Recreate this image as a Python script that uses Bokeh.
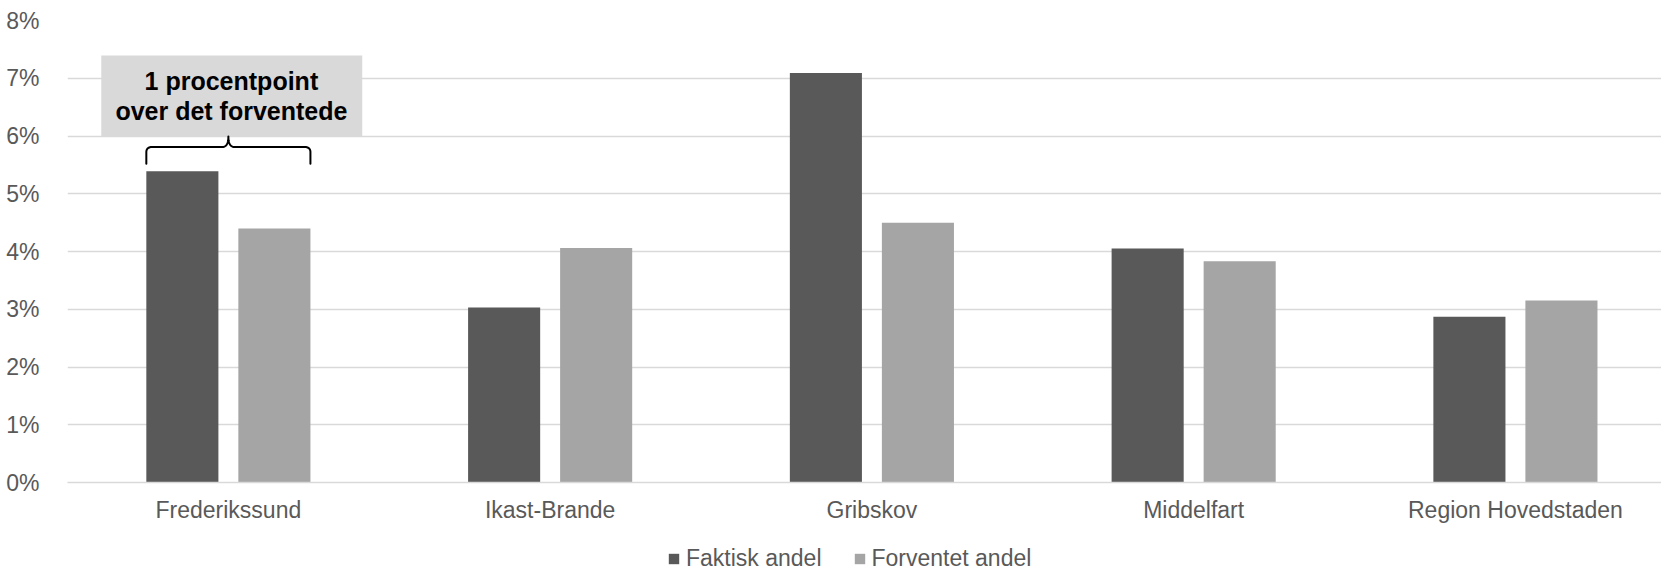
import numpy as np
from bokeh.plotting import figure
from bokeh.layouts import column
from bokeh.models import (ColumnDataSource, Range1d, FixedTicker, NumeralTickFormatter,
                          Legend, LegendItem, BoxAnnotation)
from bokeh.core.properties import value
from bokeh.embed import file_html
from bokeh.resources import INLINE

# ---------------- data ----------------
categories = ["Frederikssund", "Ikast-Brande", "Gribskov", "Middelfart", "Region Hovedstaden"]
faktisk = [5.39, 3.03, 7.09, 4.05, 2.87]      # percent
forventet = [4.40, 4.06, 4.50, 3.83, 3.15]    # percent
y_ticks = [0, 1, 2, 3, 4, 5, 6, 7, 8]         # percent
series_names = ["Faktisk andel", "Forventet andel"]
annotation_lines = ["1 procentpoint", "over det forventede"]

# ---------------- styles ----------------
FONT = "Liberation Sans"
DARK = "#595959"
LIGHT = "#A5A5A5"
GRID = "#D9D9D9"
TEXT = "#595959"
BOXFILL = "#D9D9D9"

idx = np.arange(len(categories))
offset = 0.143
bw = 0.224

p = figure(width=1661, height=530, output_backend="svg", toolbar_location=None,
           x_range=Range1d(-0.5, 4.454), y_range=Range1d(0, 0.08),
           min_border_left=67, min_border_right=0, min_border_top=20, min_border_bottom=48)
p.outline_line_color = None
p.background_fill_color = "white"
p.border_fill_color = "white"

src = ColumnDataSource(dict(
    x1=idx - offset, x2=idx + offset,
    f=np.array(faktisk) / 100.0, e=np.array(forventet) / 100.0))

r1 = p.vbar(x="x1", top="f", bottom=0, width=bw, source=src, fill_color=DARK, line_color=None)
r2 = p.vbar(x="x2", top="e", bottom=0, width=bw, source=src, fill_color=LIGHT, line_color=None)

# axes
p.yaxis.ticker = FixedTicker(ticks=[t / 100.0 for t in y_ticks])
p.yaxis.formatter = NumeralTickFormatter(format="0%")
p.ygrid.ticker = FixedTicker(ticks=[t / 100.0 for t in y_ticks])
p.ygrid.grid_line_color = GRID
p.ygrid.grid_line_width = 1.5
p.xgrid.grid_line_color = None

p.xaxis.ticker = FixedTicker(ticks=[int(i) for i in idx])
p.xaxis.major_label_overrides = {int(i): c for i, c in zip(idx, categories)}

for ax in (p.xaxis[0], p.yaxis[0]):
    ax.major_tick_line_color = None
    ax.minor_tick_line_color = None
    ax.axis_line_color = None
    ax.major_label_text_font = FONT
    ax.major_label_text_font_size = "23px"
    ax.major_label_text_color = TEXT
p.yaxis.major_label_standoff = 22
p.xaxis.major_label_standoff = 8
p.xaxis.axis_line_color = GRID
p.xaxis.axis_line_width = 1.5

# annotation box + text
box = BoxAnnotation(left=-0.395, right=0.416, bottom=0.0599, top=0.07395,
                    fill_color=BOXFILL, fill_alpha=1.0, line_color=None, level="underlay")
p.add_layout(box)

tx = idx[0] + 0.0094
p.text(x=[tx, tx], y=[0.0695, 0.0643], text=annotation_lines,
       text_font=value(FONT), text_font_style="bold", text_font_size="25px",
       text_align="center", text_baseline="alphabetic", text_color="black")

# brace spanning the two Frederikssund bars
def quad(p0, c, p1, n=14):
    t = np.linspace(0, 1, n)
    x = (1 - t) ** 2 * p0[0] + 2 * (1 - t) * t * c[0] + t ** 2 * p1[0]
    y = (1 - t) ** 2 * p0[1] + 2 * (1 - t) * t * c[1] + t ** 2 * p1[1]
    return list(x), list(y)

xl = idx[0] - offset - bw / 2
xr = idx[0] + offset + bw / 2
xc = (xl + xr) / 2
top_val = faktisk[0] / 100.0
yb = top_val + 0.0013
yh = top_val + 0.0042
yt = top_val + 0.0060
rx, ry = 0.019, 0.0009

bx, by = [xl], [yb]
for seg in (quad((xl, yh - ry), (xl, yh), (xl + rx, yh)),
            quad((xc - rx, yh), (xc, yh), (xc, yt)),
            quad((xc, yt), (xc, yh), (xc + rx, yh)),
            quad((xr - rx, yh), (xr, yh), (xr, yh - ry))):
    bx += seg[0]
    by += seg[1]
bx.append(xr)
by.append(yb)
p.line(bx, by, line_color="black", line_width=2, line_join="round", line_cap="round")

# ---------------- legend strip below the chart ----------------
lg = figure(width=1661, height=40, output_backend="svg", toolbar_location=None,
            x_range=Range1d(0, 1), y_range=Range1d(0, 1),
            x_axis_type=None, y_axis_type=None,
            min_border_left=0, min_border_right=0, min_border_top=0, min_border_bottom=0)
lg.outline_line_color = None
lg.xgrid.grid_line_color = None
lg.ygrid.grid_line_color = None
lg.background_fill_color = "white"
lg.border_fill_color = "white"
# proxy renderers (NaN height, so nothing is drawn) that only serve as legend swatches
nan_src = ColumnDataSource(dict(x=np.array([0.5]), top=np.array([np.nan])))
d1 = lg.vbar(x="x", top="top", bottom=0, width=0.1, source=nan_src, fill_color=DARK, line_color=None)
d2 = lg.vbar(x="x", top="top", bottom=0, width=0.1, source=nan_src, fill_color=LIGHT, line_color=None)

legend = Legend(items=[LegendItem(label=series_names[0], renderers=[d1]),
                       LegendItem(label=series_names[1], renderers=[d2])],
                location=(600, -2), orientation="horizontal", padding=0, margin=0,
                spacing=31, label_standoff=6, glyph_width=13, glyph_height=13,
                label_text_font=FONT, label_text_font_size="23px", label_text_color=TEXT,
                border_line_color=None, background_fill_alpha=0)
lg.add_layout(legend)

open("out.html", "w").write(file_html(column(p, lg, spacing=0), INLINE))
